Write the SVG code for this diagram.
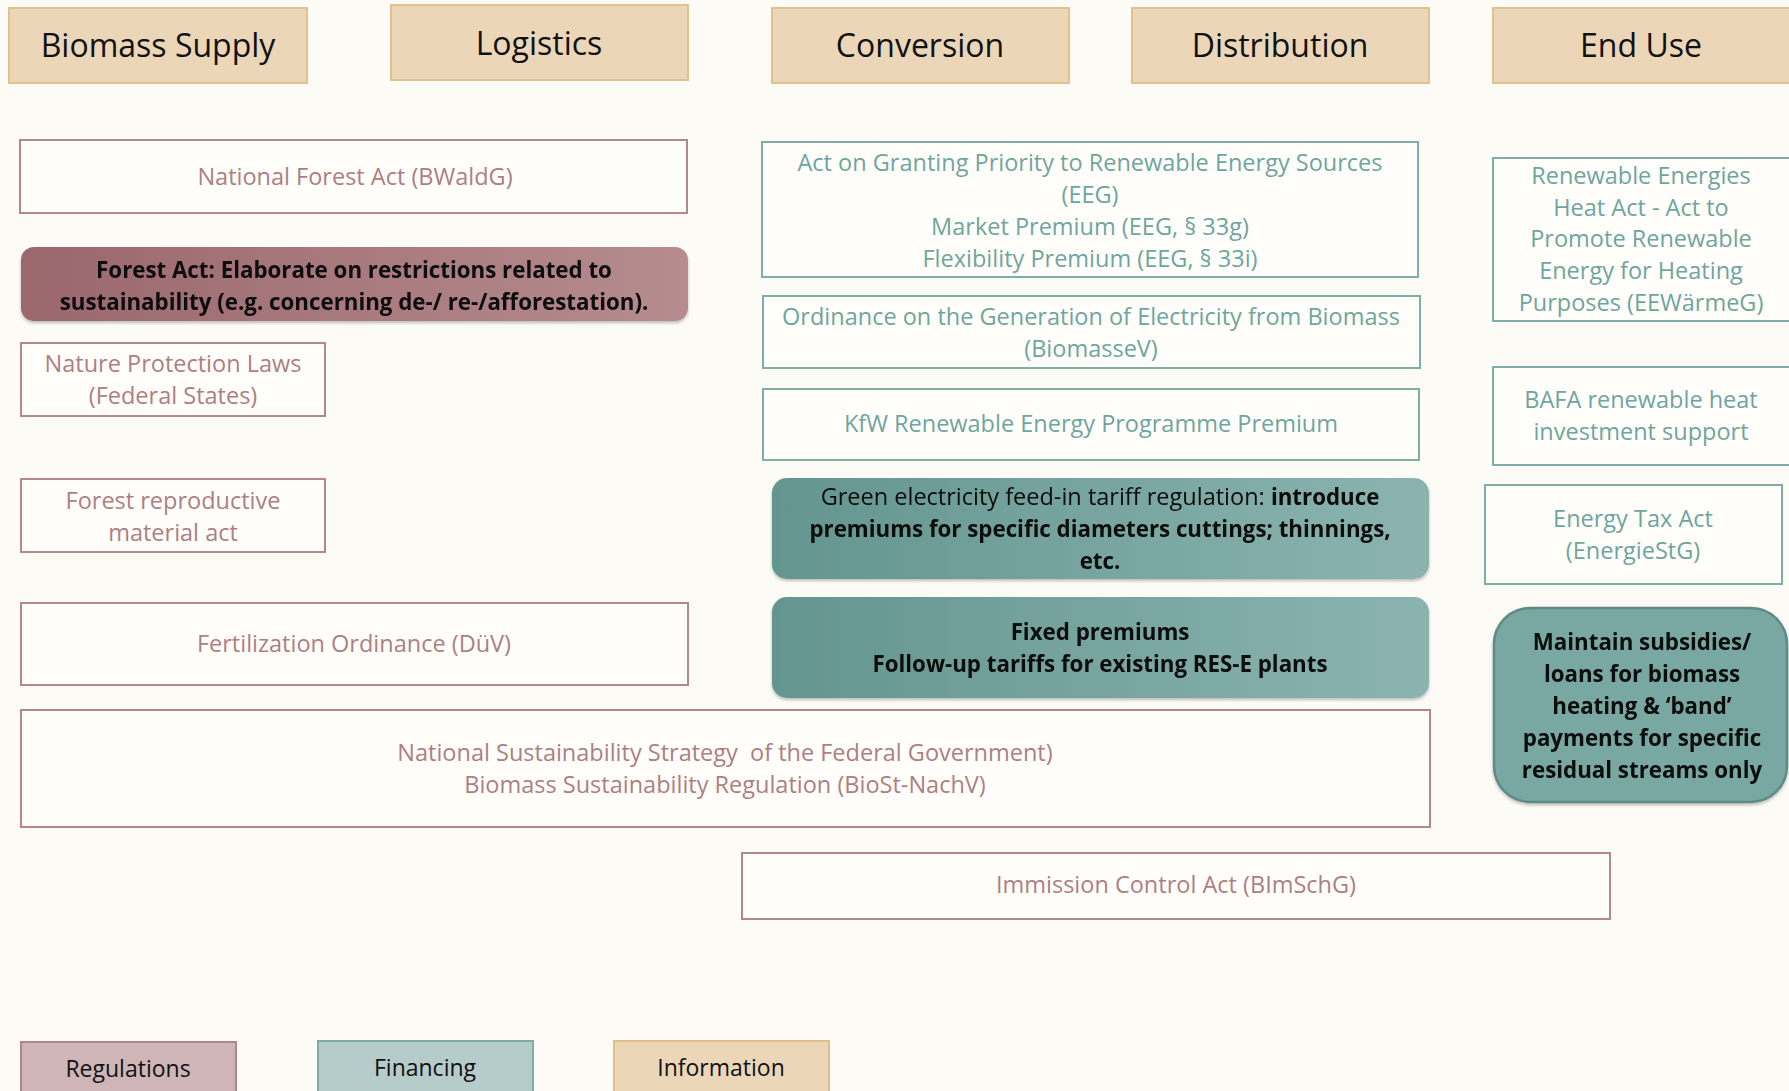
<svg xmlns="http://www.w3.org/2000/svg" width="1789" height="1091" viewBox="0 0 1789 1091">
<defs>
<linearGradient id="gReg" x1="0" y1="0" x2="1" y2="0">
<stop offset="0" stop-color="#9A676D"/>
<stop offset="1" stop-color="#B68C8E"/>
</linearGradient>
<linearGradient id="gFin" x1="0" y1="0" x2="1" y2="0">
<stop offset="0" stop-color="#64958F"/>
<stop offset="1" stop-color="#8BB4AF"/>
</linearGradient>
<filter id="sh" x="-5%" y="-10%" width="110%" height="130%">
<feDropShadow dx="0" dy="2" stdDeviation="1.5" flood-color="#000" flood-opacity="0.25"/>
</filter>
<style>
text{font-family:"Open Sans","Liberation Sans",sans-serif;text-anchor:middle}
.hdr rect{fill:#EBD7B8;stroke:#E1C28E;stroke-width:2}
.hdr text{font-size:32px;fill:#111}
.reg rect{fill:#FFFEFB;stroke:#B5878B;stroke-width:2}
.reg text{font-size:23.5px;fill:#AD7F83}
.fin rect{fill:#FFFEFB;stroke:#7FAEA9;stroke-width:2}
.fin text{font-size:23.5px;fill:#6FA59F}
.bold text{font-size:22.3px;font-weight:bold;fill:#0A0A0A}
.leg text{font-size:23px;fill:#111}
</style>
</defs>
<rect width="1789" height="1091" fill="#FCFBF6"/>

<g id="hdr-biomass" class="hdr"><rect x="9" y="8" width="298" height="75"/><text x="158" y="57">Biomass Supply</text></g>
<g id="hdr-logistics" class="hdr"><rect x="391" y="5" width="297" height="75"/><text x="539" y="55">Logistics</text></g>
<g id="hdr-conversion" class="hdr"><rect x="772" y="8" width="297" height="75"/><text x="920" y="57">Conversion</text></g>
<g id="hdr-distribution" class="hdr"><rect x="1132" y="8" width="297" height="75"/><text x="1280" y="57">Distribution</text></g>
<g id="hdr-enduse" class="hdr"><rect x="1493" y="8" width="300" height="75"/><text x="1641" y="57">End Use</text></g>

<g id="national-forest-act" class="reg"><rect x="20" y="140" width="667" height="73"/><text x="355" y="185">National Forest Act (BWaldG)</text></g>
<g id="forest-act-sustain" class="bold" filter="url(#sh)"><rect x="21" y="247" width="667" height="74" rx="13" fill="url(#gReg)"/><text x="354" y="278">Forest Act: Elaborate on restrictions related to</text><text x="354" y="310">sustainability (e.g. concerning de-/ re-/afforestation).</text></g>
<g id="nature-protection" class="reg"><rect x="21" y="343" width="304" height="73"/><text x="173" y="372">Nature Protection Laws</text><text x="173" y="404">(Federal States)</text></g>
<g id="forest-reproductive" class="reg"><rect x="21" y="479" width="304" height="73"/><text x="173" y="509">Forest reproductive</text><text x="173" y="541">material act</text></g>
<g id="fertilization" class="reg"><rect x="21" y="603" width="667" height="82"/><text x="354" y="652">Fertilization Ordinance (DüV)</text></g>
<g id="national-sustainability" class="reg"><rect x="21" y="710" width="1409" height="117"/><text x="725" y="761">National Sustainability Strategy&#160; of the Federal Government)</text><text x="725" y="793">Biomass Sustainability Regulation (BioSt-NachV)</text></g>
<g id="immission" class="reg"><rect x="742" y="853" width="868" height="66"/><text x="1176" y="893">Immission Control Act (BImSchG)</text></g>

<g id="eeg" class="fin"><rect x="762" y="142" width="656" height="135"/><text x="1090" y="171">Act on Granting Priority to Renewable Energy Sources</text><text x="1090" y="203">(EEG)</text><text x="1090" y="235">Market Premium (EEG, § 33g)</text><text x="1090" y="267">Flexibility Premium (EEG, § 33i)</text></g>
<g id="biomassev" class="fin"><rect x="763" y="296" width="657" height="72"/><text x="1091" y="325">Ordinance on the Generation of Electricity from Biomass</text><text x="1091" y="357">(BiomasseV)</text></g>
<g id="kfw" class="fin"><rect x="763" y="389" width="656" height="71"/><text x="1091" y="432">KfW Renewable Energy Programme Premium</text></g>
<g id="green-electricity" class="bold" filter="url(#sh)"><rect x="772" y="478" width="657" height="101" rx="15" fill="url(#gFin)"/><text x="1100" y="505"><tspan font-weight="normal" font-size="23.5px">Green electricity feed-in tariff regulation: </tspan>introduce</text><text x="1100" y="537">premiums for specific diameters cuttings; thinnings,</text><text x="1100" y="569">etc.</text></g>
<g id="fixed-premiums" class="bold" filter="url(#sh)"><rect x="772" y="597" width="657" height="101" rx="15" fill="url(#gFin)"/><text x="1100" y="640">Fixed premiums</text><text x="1100" y="672">Follow-up tariffs for existing RES-E plants</text></g>
<g id="eewaermeg" class="fin"><rect x="1493" y="158" width="300" height="163"/><text x="1641" y="184">Renewable Energies</text><text x="1641" y="216">Heat Act - Act to</text><text x="1641" y="247">Promote Renewable</text><text x="1641" y="279">Energy for Heating</text><text x="1641" y="311">Purposes (EEWärmeG)</text></g>
<g id="bafa" class="fin"><rect x="1493" y="367" width="300" height="98"/><text x="1641" y="408">BAFA renewable heat</text><text x="1641" y="440">investment support</text></g>
<g id="energiestg" class="fin"><rect x="1485" y="485" width="297" height="99"/><text x="1633" y="527">Energy Tax Act</text><text x="1633" y="559">(EnergieStG)</text></g>
<g id="maintain-subsidies" class="bold" filter="url(#sh)"><rect x="1494" y="608" width="293" height="194" rx="36" fill="#79A8A3" stroke="#5E8A85" stroke-width="2.5"/><text x="1642" y="650">Maintain subsidies/</text><text x="1642" y="682">loans for biomass</text><text x="1642" y="714">heating &amp; ‘band’</text><text x="1642" y="746">payments for specific</text><text x="1642" y="778">residual streams only</text></g>

<g id="connectors"></g>

<g id="legend-regulations" class="leg"><rect x="21" y="1042" width="215" height="60" fill="#CFB5B8" stroke="#B28589" stroke-width="2"/><text x="128" y="1077">Regulations</text></g>
<g id="legend-financing" class="leg"><rect x="318" y="1041" width="215" height="60" fill="#B5CCCA" stroke="#7FAAA6" stroke-width="2"/><text x="425" y="1076">Financing</text></g>
<g id="legend-information" class="leg"><rect x="614" y="1041" width="215" height="60" fill="#EBD7B8" stroke="#E0C08A" stroke-width="2"/><text x="721" y="1076">Information</text></g>
</svg>
